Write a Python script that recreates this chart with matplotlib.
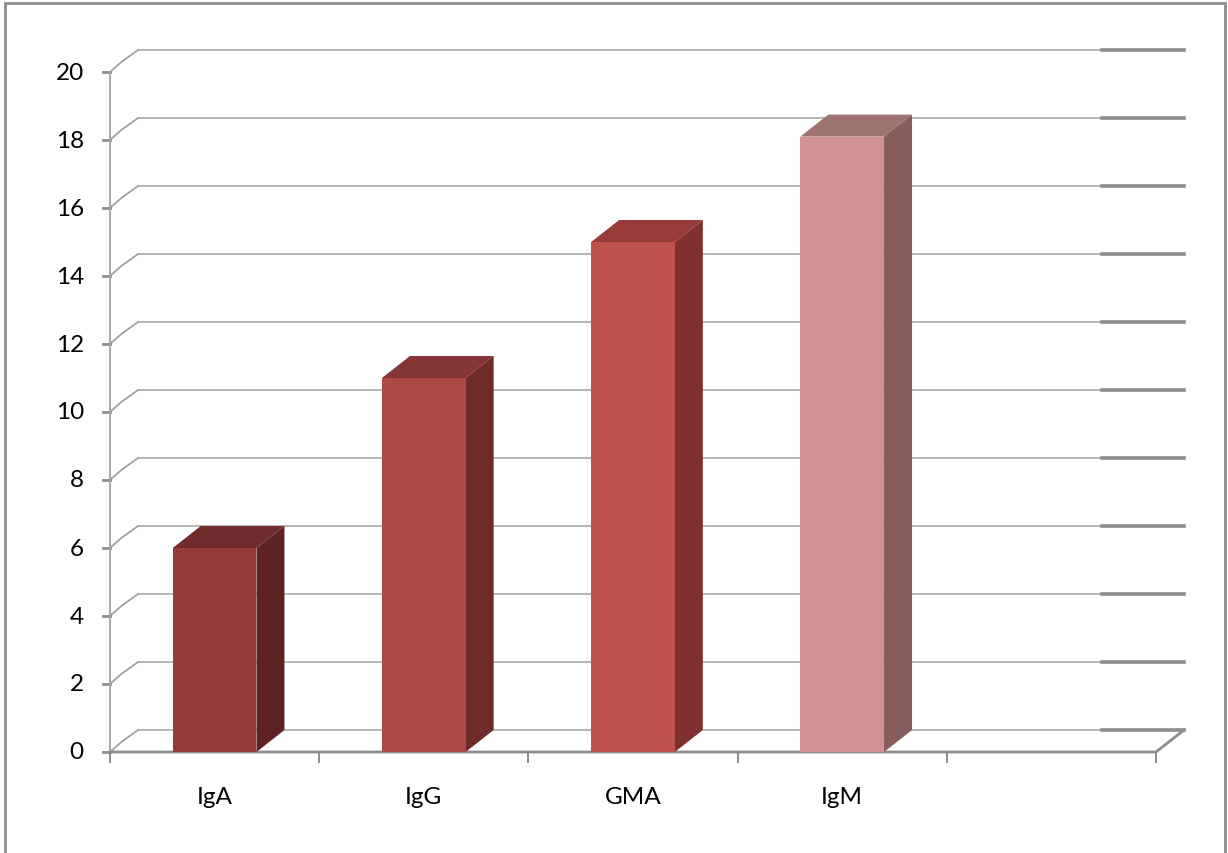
import matplotlib.pyplot as plt
import matplotlib.transforms as mtransforms
from matplotlib.patches import Polygon, Rectangle

categories = ["IgA", "IgG", "GMA", "IgM"]
values = [6, 11, 15, 18.1]
front_colors = ["#943a3a", "#ad4844", "#c0514d", "#d39292"]
top_colors = ["#702c2c", "#853535", "#983b39", "#a07373"]
side_colors = ["#5e2222", "#6f2b2a", "#7f302f", "#855d5d"]

y_ticks = list(range(0, 21, 2))
n_slots = 5          # one empty slot at the right, like the source sheet
bar_width = 0.4
depth_px = (28, 22)  # 3D depth offset of the back wall, in pixels

W, H, DPI = 1228, 854, 100
fig = plt.figure(figsize=(W / DPI, H / DPI), dpi=DPI)
plt.rcParams["font.family"] = ["Lato", "DejaVu Sans"]

# outer chart frame
fig.patches.append(Rectangle((5 / W, -0.01), (W - 8) / W, (H - 4) / H + 0.01,
                             transform=fig.transFigure, fill=False,
                             edgecolor="#8c8c8c", linewidth=2))

ax = fig.add_axes([110 / W, (H - 753) / H, (1156 - 110) / W, 680 / H])
ax.set_xlim(0, n_slots)
ax.set_ylim(0, 20)
ax.axis("off")

back = mtransforms.offset_copy(ax.transData, fig=fig, x=depth_px[0],
                               y=depth_px[1], units="dots")
dx_data = depth_px[0] / (ax.bbox.width / n_slots)
dy_data = depth_px[1] / (ax.bbox.height / 20)

# back wall gridlines plus the short slanted pieces on the left wall
for v in y_ticks:
    ax.plot([0, n_slots * 0.922], [v, v], transform=back, color="#b5b5b5",
            linewidth=1.4, clip_on=False, zorder=1)
    ax.plot([n_slots * 0.922, n_slots], [v, v], transform=back, color="#8c8c8c",
            linewidth=2.6, clip_on=False, zorder=1)
    ax.plot([0, dx_data * 0.4, dx_data], [v, v + dy_data * 0.45, v + dy_data],
            color="#a0a0a0", linewidth=1.3, clip_on=False, zorder=1)
    ax.plot([-0.035, 0], [v, v], color="#8c8c8c", linewidth=2, clip_on=False)
    ax.text(-0.125, v, str(v), ha="right", va="center", fontsize=17.5)

# value axis and floor
ax.plot([0, 0], [0, 20], color="#a8a8a8", linewidth=1.4, clip_on=False)
ax.plot([0, n_slots, n_slots + dx_data], [0, 0, dy_data], color="#8c8c8c",
        linewidth=2, clip_on=False, zorder=2)
for i in range(n_slots + 1):
    ax.plot([i, i], [0, -0.28], color="#8c8c8c", linewidth=1.4, clip_on=False)

for i, (name, v) in enumerate(zip(categories, values)):
    x0 = i + 0.5 - bar_width / 2
    x1 = x0 + bar_width
    ax.add_patch(Polygon([(x0, v), (x1, v), (x1 + dx_data, v + dy_data),
                          (x0 + dx_data, v + dy_data)], closed=True,
                         facecolor=top_colors[i], edgecolor="none", zorder=3))
    ax.add_patch(Polygon([(x1, 0), (x1 + dx_data, dy_data),
                          (x1 + dx_data, v + dy_data), (x1, v)], closed=True,
                         facecolor=side_colors[i], edgecolor="none", zorder=3))
    ax.add_patch(Rectangle((x0, 0), bar_width, v, facecolor=front_colors[i],
                           edgecolor="none", zorder=4, clip_on=False))
    ax.text(i + 0.5, -1.3, name, ha="center", va="center", fontsize=17.5)

fig.savefig("out.png", dpi=DPI)
